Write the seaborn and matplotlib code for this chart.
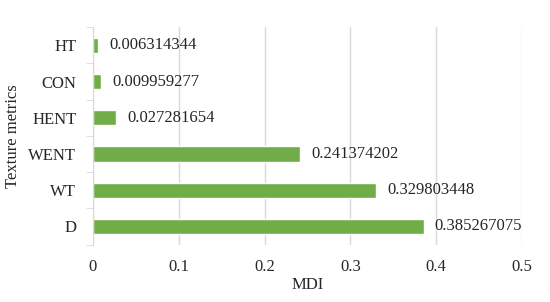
import matplotlib
matplotlib.use("Agg")
import matplotlib.pyplot as plt
import seaborn as sns
import numpy as np
import pandas as pd

# texture metrics and their MDI importance (top to bottom)
metrics = ["HT", "CON", "HENT", "WENT", "WT", "D"]
mdi = [0.006314344, 0.009959277, 0.027281654, 0.241374202, 0.329803448, 0.385267075]
labels = ["0.006314344", "0.009959277", "0.027281654", "0.241374202", "0.329803448", "0.385267075"]
xticks = [0, 0.1, 0.2, 0.3, 0.4, 0.5]

df = pd.DataFrame({"metric": metrics, "MDI": mdi})

sns.set_style("white")
plt.rcParams["font.family"] = ["Liberation Serif", "DejaVu Serif"]
plt.rcParams["font.size"] = 12

fig, ax = plt.subplots(figsize=(5.5, 3.02), dpi=100)
fig.subplots_adjust(left=0.169, right=0.949, top=0.91, bottom=0.19)

sns.barplot(data=df, x="MDI", y="metric", order=metrics, color="#70AD47",
            width=0.42, saturation=1, ax=ax)

for i, (v, t) in enumerate(zip(mdi, labels)):
    ax.annotate(t, (v, i), xytext=(8, 0), textcoords="offset points",
                va="center", ha="left", fontsize=12)

ax.set_xlim(0, 0.5)
ax.set_ylim(len(metrics) - 0.5, -0.5)
ax.set_xticks(xticks)
ax.set_xticklabels([f"{x:g}" for x in xticks])
ax.grid(axis="x", color="#d9d9d9", linewidth=1)
ax.set_axisbelow(True)

for s in ["top", "right", "bottom"]:
    ax.spines[s].set_visible(False)
ax.spines["left"].set_color("#d9d9d9")

# category boundary ticks on the left axis
ax.set_yticks(np.arange(-0.5, len(metrics), 1), minor=True)
ax.tick_params(axis="y", which="minor", length=5, color="#d9d9d9", left=True)
ax.tick_params(axis="y", which="major", length=0, pad=12)
ax.tick_params(axis="x", length=0, pad=10)

ax.set_xlabel("MDI", labelpad=2)
ax.set_ylabel("Texture metrics", labelpad=5)

fig.savefig("out.png", dpi=100)
